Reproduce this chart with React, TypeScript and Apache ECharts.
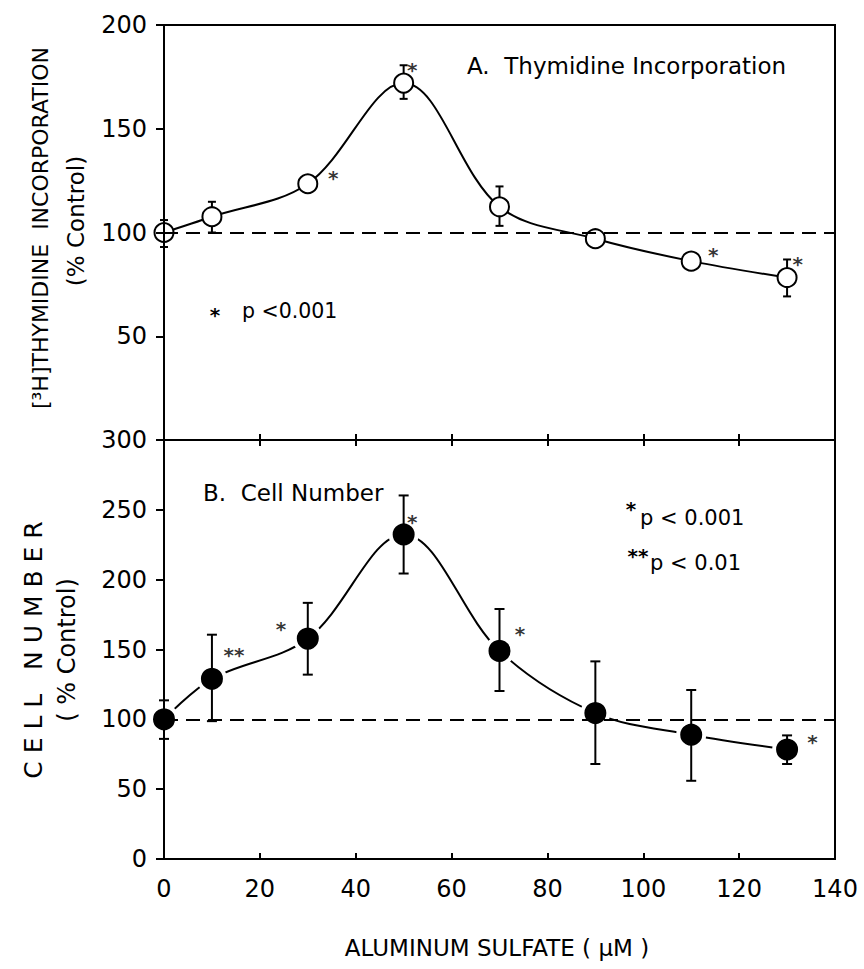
import React, { useEffect, useRef } from "react";
import * as echarts from "echarts";

// ---- data ----
const doses = [0, 10, 30, 50, 70, 90, 110, 130];
const thymidine = [100, 107.6, 123.5, 172, 112.4, 97, 86.2, 78.3];
const thymidineHigh = [106, 114.8, null, 180.6, 122.2, null, null, 87];
const thymidineLow = [93, 100, null, 164.4, 103.2, null, null, 69.2];
const cellNumber = [100, 129, 157.8, 232.4, 149, 104.5, 89, 78.4];
const cellHigh = [113.6, 160.6, 183.4, 260.3, 179, 141.5, 121, 88.5];
const cellLow = [86, 98.7, 132, 204.4, 120.3, 68, 56, 68];
const xTicks = { min: 0, max: 140, interval: 20 };
const yTopTicks = { min: 0, max: 200, interval: 50 };
const yBottomTicks = { min: 0, max: 300, interval: 50 };
const controlLevel = 100;
// significance marks: [x, y, text]
const topStars: [number, number, string][] = [
  [35.3, 126.3, "*"],
  [51.8, 178.3, "*"],
  [114.6, 89.2, "*"],
  [132.2, 84.8, "*"],
];
const bottomStars: [number, number, string][] = [
  [14.6, 146, "**"],
  [24.4, 164.6, "*"],
  [51.8, 241.5, "*"],
  [74.3, 161, "*"],
  [135.3, 83.7, "*"],
];

const FONT = "DejaVu Sans";

function errorSeries(name: string, xIdx: number, yIdx: number, hi: (number | null)[], lo: (number | null)[], cap: number, z: number) {
  const data = doses
    .map((d, i) => (hi[i] == null || lo[i] == null ? null : [d, lo[i], hi[i]]))
    .filter((v) => v != null);
  return {
    type: "custom",
    name,
    xAxisIndex: xIdx,
    yAxisIndex: yIdx,
    z,
    silent: true,
    data,
    renderItem: (params: any, api: any) => {
      const x = api.value(0);
      const l = api.value(1);
      const h = api.value(2);
      const pH = api.coord([x, h]);
      const pL = api.coord([x, l]);
      const st = { stroke: "#000", lineWidth: 2 };
      return {
        type: "group",
        children: [
          { type: "line", shape: { x1: pH[0], y1: pH[1], x2: pL[0], y2: pL[1] }, style: st },
          { type: "line", shape: { x1: pH[0] - cap, y1: pH[1], x2: pH[0] + cap, y2: pH[1] }, style: st },
          { type: "line", shape: { x1: pL[0] - cap, y1: pL[1], x2: pL[0] + cap, y2: pL[1] }, style: st },
        ],
      };
    },
  };
}

function starSeries(xIdx: number, yIdx: number, data: [number, number, string][]) {
  return {
    type: "scatter",
    xAxisIndex: xIdx,
    yAxisIndex: yIdx,
    symbolSize: 1,
    itemStyle: { color: "rgba(0,0,0,0)" },
    silent: true,
    z: 6,
    data,
    label: {
      show: true,
      position: "inside",
      formatter: (p: any) => p.value[2],
      fontSize: 20,
      fontWeight: "bold",
      fontFamily: FONT,
      color: "#000",
      textBorderWidth: 0,
    },
  };
}

export default function App() {
  const ref = useRef<HTMLDivElement>(null);
  useEffect(() => {
    if (!ref.current) return;
    const chart = echarts.init(ref.current, undefined, { renderer: "svg" });
    const axisLine = { show: true, lineStyle: { color: "#000", width: 2 } };
    const labelStyle = { color: "#000", fontSize: 24, fontFamily: FONT };
    const tick = { show: true, inside: true, length: 6, lineStyle: { color: "#000", width: 2 } };
    const dashed = {
      silent: true,
      symbol: "none",
      label: { show: false },
      lineStyle: { color: "#000", width: 2, type: [14, 8] },
      data: [{ yAxis: controlLevel }],
    };
    const txt = (x: number, y: number, text: string, fontSize: number, extra: any = {}) => ({
      type: "text", x, y, ...extra,
      style: { text, fontSize, fontFamily: FONT, fill: "#000", align: extra.align || "left", verticalAlign: "middle", fontWeight: extra.fontWeight || "normal" },
    });
    const option: any = {
      animation: false,
      backgroundColor: "#fff",
      grid: [
        { left: 164, top: 25, width: 671, height: 415, show: true, borderColor: "#000", borderWidth: 2 },
        { left: 164, top: 440, width: 671, height: 419, show: true, borderColor: "#000", borderWidth: 2 },
      ],
      xAxis: [
        { gridIndex: 0, type: "value", ...xTicks, position: "bottom", axisLine, axisTick: tick, axisLabel: { show: false }, splitLine: { show: false } },
        { gridIndex: 1, type: "value", ...xTicks, position: "bottom", axisLine, axisTick: tick, axisLabel: { ...labelStyle, margin: 18 }, splitLine: { show: false } },
        { gridIndex: 1, type: "value", ...xTicks, position: "top", axisLine, axisTick: tick, axisLabel: { show: false }, splitLine: { show: false } },
      ],
      yAxis: [
        {
          gridIndex: 0, type: "value", ...yTopTicks, z: 10,
          axisLine, axisTick: { show: true, length: 8, lineStyle: { color: "#000", width: 2 } },
          axisLabel: { ...labelStyle, margin: 17, formatter: (v: number) => (v === 0 ? "" : String(v)) },
          splitLine: { show: false },
        },
        {
          gridIndex: 1, type: "value", ...yBottomTicks, z: 10,
          axisLine, axisTick: { show: true, length: 8, lineStyle: { color: "#000", width: 2 } },
          axisLabel: { ...labelStyle, margin: 17 },
          splitLine: { show: false },
        },
      ],
      series: [
        errorSeries("thymidine error", 0, 0, thymidineHigh, thymidineLow, 4, 1),
        {
          type: "line", name: "Thymidine Incorporation", xAxisIndex: 0, yAxisIndex: 0, z: 3,
          data: doses.map((d, i) => [d, thymidine[i]]),
          smooth: 0.35,
          symbol: "circle", symbolSize: 19,
          itemStyle: { color: "#fff", borderColor: "#000", borderWidth: 2 },
          lineStyle: { color: "#000", width: 2 },
          markLine: dashed,
        },
        starSeries(0, 0, topStars),
        {
          type: "line", name: "Cell Number", xAxisIndex: 1, yAxisIndex: 1, z: 3,
          data: doses.map((d, i) => [d, cellNumber[i]]),
          smooth: 0.35,
          symbol: "circle", symbolSize: 26,
          itemStyle: { color: "#000", borderColor: "#fff", borderWidth: 4 },
          lineStyle: { color: "#000", width: 2 },
          markLine: dashed,
        },
        errorSeries("cell error", 1, 1, cellHigh, cellLow, 5, 4),
        starSeries(1, 1, bottomStars),
      ],
      graphic: [
        txt(40, 228, "[³H]THYMIDINE  INCORPORATION", 22, { rotation: Math.PI / 2, align: "center" }),
        txt(76, 221, "(% Control)", 23, { rotation: Math.PI / 2, align: "center" }),
        txt(33, 650, "C E L L   N U M B E R", 25, { rotation: Math.PI / 2, align: "center" }),
        txt(67, 650, "( % Control)", 24, { rotation: Math.PI / 2, align: "center" }),
        txt(497, 948, "ALUMINUM SULFATE ( μM )", 23, { align: "center" }),
        txt(467, 66, "A.  Thymidine Incorporation", 23),
        txt(215, 315, "*", 20, { align: "center", fontWeight: "bold" }),
        txt(242, 311, "p <0.001", 20.5),
        txt(203, 493, "B.  Cell Number", 23),
        txt(631, 509, "*", 20, { align: "center", fontWeight: "bold" }),
        txt(640, 518, "p < 0.001", 21),
        txt(638, 556, "**", 20, { align: "center", fontWeight: "bold" }),
        txt(650, 563, "p < 0.01", 21),
      ],
    };
    chart.setOption(option);
    return () => chart.dispose();
  }, []);
  return <div ref={ref} style={{ position: "fixed", left: 0, top: 0, width: 864, height: 969, background: "#fff" }} />;
}
